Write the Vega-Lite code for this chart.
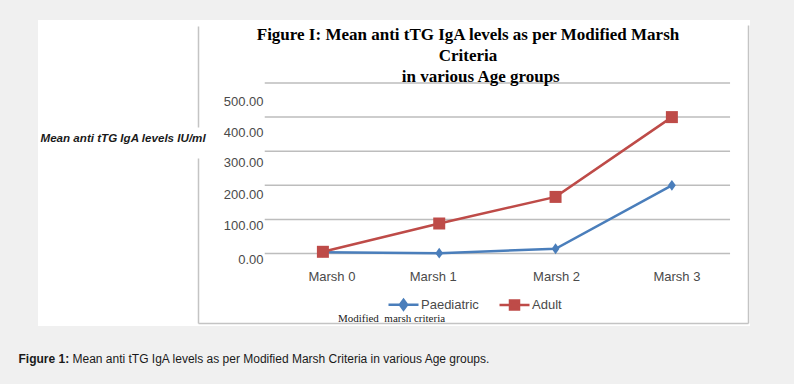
{
  "$schema": "https://vega.github.io/schema/vega-lite/v6.json",
  "width": 712,
  "height": 306,
  "autosize": {"type": "none"},
  "padding": {"left": 38, "top": 20, "right": 44, "bottom": 58},
  "background": "#f0f0f0",
  "config": {"view": {"fill": "#ffffff", "stroke": null}},
  "title": {
    "text": ["Figure I: Mean anti tTG IgA levels as per Modified Marsh", "Criteria", "\u200b\u00a0\u00a0\u00a0\u00a0\u00a0\u00a0in various Age groups"],
    "font": "Liberation Serif",
    "fontSize": 17,
    "fontWeight": "bold",
    "color": "#000000",
    "lineHeight": 21,
    "anchor": "middle",
    "frame": "group",
    "baseline": "top",
    "offset": 0,
    "dx": 74,
    "dy": 66
  },
  "layer": [
    {
      "data": {"values": [{"grid": 0}, {"grid": 100}, {"grid": 200}, {"grid": 300}, {"grid": 400}, {"grid": 500}]},
      "mark": {"type": "rule", "color": "#bdbdbd", "strokeWidth": 1.5},
      "encoding": {
        "x": {
          "datum": "Marsh 0",
          "type": "nominal",
          "bandPosition": 0,
          "axis": {
            "orient": "top",
            "labels": false,
            "ticks": false,
            "domain": false,
            "grid": false,
            "title": "Figure 1:",
            "titleFont": "Liberation Sans",
            "titleFontSize": 12,
            "titleFontWeight": "bold",
            "titleColor": "#1a1a1a",
            "titleAlign": "left",
            "titleBaseline": "middle",
            "titleAngle": 0,
            "titleX": -20,
            "titleY": 338
          }
        },
        "x2": {"datum": "Marsh 3", "bandPosition": 1},
        "y": {
          "field": "grid",
          "type": "quantitative",
          "axis": {
            "orient": "right",
            "offset": -2,
            "labels": false,
            "ticks": false,
            "grid": false,
            "domain": true,
            "domainColor": "#c4c4c4",
            "domainWidth": 1.5,
            "domainDash": [0, 3, 298, 20],
            "title": "Mean anti tTG IgA levels as per Modified Marsh Criteria in various Age groups.",
            "titleFont": "Liberation Sans",
            "titleFontSize": 12,
            "titleFontWeight": "normal",
            "titleColor": "#1a1a1a",
            "titleAngle": 0,
            "titleAlign": "left",
            "titleBaseline": "middle",
            "titleX": -676,
            "titleY": 338
          }
        }
      }
    },
    {
      "data": {
        "values": [
          {"marsh": "Marsh 0", "group": "Paediatric", "value": 4},
          {"marsh": "Marsh 1", "group": "Paediatric", "value": 1},
          {"marsh": "Marsh 2", "group": "Paediatric", "value": 14},
          {"marsh": "Marsh 3", "group": "Paediatric", "value": 200},
          {"marsh": "Marsh 0", "group": "Adult", "value": 5},
          {"marsh": "Marsh 1", "group": "Adult", "value": 88},
          {"marsh": "Marsh 2", "group": "Adult", "value": 166},
          {"marsh": "Marsh 3", "group": "Adult", "value": 400}
        ]
      },
      "layer": [
        {
          "mark": {"type": "line", "strokeWidth": 2.5},
          "encoding": {
            "x": {
              "field": "marsh",
              "type": "nominal",
              "sort": null,
              "scale": {"type": "band", "domain": ["Marsh 0", "Marsh 1", "Marsh 2", "Marsh 3"], "range": [160, 710], "paddingInner": 0, "paddingOuter": 0.364, "align": 0.788},
              "axis": {
                "orient": "bottom",
                "offset": -3,
                "domainColor": "#c4c4c4",
                "domainWidth": 1.5,
                "ticks": false,
                "tickSize": 0,
                "grid": false,
                "labelPadding": -47,
                "labelBaseline": "middle",
                "labelAngle": 0,
                "labelFont": "Liberation Sans",
                "labelFontSize": 13,
                "labelColor": "#4a4a4a",
                "labelOffset": {"condition": [{"test": "datum.value === 'Marsh 0'", "value": 9}, {"test": "datum.value === 'Marsh 1'", "value": -6}, {"test": "datum.value === 'Marsh 2'", "value": 1}], "value": 5},
                "title": "Modified\u00a0\u00a0marsh criteria",
                "titleFont": "Liberation Serif",
                "titleFontSize": 11,
                "titleFontWeight": "normal",
                "titleColor": "#222222",
                "titleAlign": "center",
                "titleBaseline": "middle",
                "titleX": 353,
                "titleY": -5
              }
            },
            "y": {
              "field": "value",
              "type": "quantitative",
              "scale": {"domain": [-212.6, 684.8], "nice": false, "zero": false},
              "axis": {
                "orient": "left",
                "offset": -160,
                "values": [0, 100, 200, 300, 400, 500],
                "format": ".2f",
                "ticks": false,
                "tickSize": 0,
                "grid": false,
                "domainColor": "#c4c4c4",
                "domainWidth": 1.5,
                "domainDash": [0, 3, 165, 31, 101, 10],
                "labelPadding": -65,
                "labelAlign": "right",
                "labelBaseline": "middle",
                "labelFont": "Liberation Sans",
                "labelFontSize": 13,
                "labelColor": "#4a4a4a",
                "labelOffset": {"condition": [{"test": "datum.value === 500", "value": 18}, {"test": "datum.value === 400", "value": 15}, {"test": "datum.value === 300", "value": 11}, {"test": "datum.value === 200", "value": 9}], "value": 6},
                "title": "Mean anti tTG IgA levels IU/ml",
                "titleFont": "Liberation Sans",
                "titleFontSize": 11.6,
                "titleFontStyle": "italic",
                "titleFontWeight": "bold",
                "titleColor": "#1a1a1a",
                "titleAngle": 0,
                "titleAlign": "left",
                "titleBaseline": "middle",
                "titleX": -158,
                "titleY": 118
              }
            },
            "color": {
              "field": "group",
              "type": "nominal",
              "scale": {"domain": ["Paediatric", "Adult"], "range": ["#4a7ebb", "#be4b48"]},
              "legend": {
                "orient": "none",
                "legendX": 349,
                "legendY": 268,
                "direction": "horizontal",
                "title": null,
                "padding": 0,
                "symbolSize": 900,
                "symbolStrokeWidth": 2.5,
                "labelOffset": 1,
                "columnPadding": 15,
                "labelFont": "Liberation Sans",
                "labelFontSize": 13,
                "labelColor": "#4a4a4a",
                "encode": {
                  "symbols": {
                    "update": {
                      "shape": {"signal": "datum.value === 'Adult' ? 'M-1,0L1,0M-0.3,-0.3L0.3,-0.3L0.3,0.3L-0.3,0.3Z' : 'M-1,0L1,0M0,-0.33L0.24,0L0,0.33L-0.24,0Z'"},
                      "fill": {"signal": "datum.value === 'Adult' ? '#be4b48' : '#4a7ebb'"},
                      "stroke": {"signal": "datum.value === 'Adult' ? '#be4b48' : '#4a7ebb'"},
                      "strokeWidth": {"value": 2.5},
                      "opacity": {"value": 1},
                      "fillOpacity": {"value": 1}
                    }
                  }
                }
              }
            }
          }
        },
        {
          "mark": {"type": "point", "filled": true, "opacity": 1, "size": 144},
          "encoding": {
            "x": {"field": "marsh", "type": "nominal", "sort": null},
            "y": {"field": "value", "type": "quantitative"},
            "color": {"field": "group", "type": "nominal"},
            "shape": {
              "condition": {"test": "datum.group === 'Adult'", "value": "square"},
              "value": "M0,-0.9L0.65,0L0,0.9L-0.65,0Z"
            }
          }
        }
      ]
    }
  ],
  "resolve": {"axis": {"x": "independent", "y": "independent"}}
}
